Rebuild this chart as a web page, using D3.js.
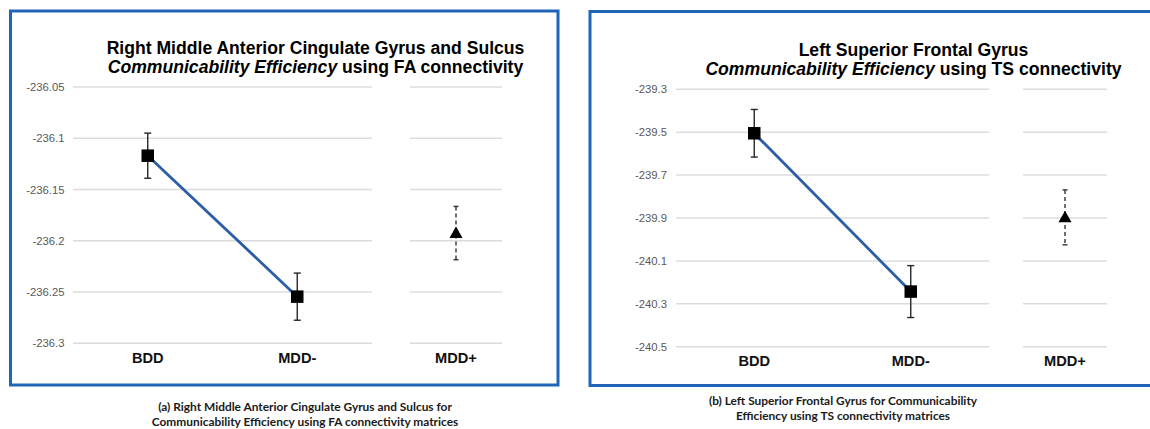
<!DOCTYPE html>
<html>
<head>
<meta charset="utf-8">
<script src="https://cdn.jsdelivr.net/npm/d3@7"></script>
<style>
  body { margin: 0; background: #fff; }
  svg { display: block; }
</style>
</head>
<body>
<svg id="chart" width="1150" height="429"></svg>
<script>
// Groups: the first two are joined by a line, the third stands alone
const pairCategories = ["BDD", "MDD-"];
const extraCategory = ["MDD+"];

// Panel (a): FA connectivity
const faTitleTop = "Right Middle Anterior Cingulate Gyrus and Sulcus";
const faTitleRest = " using FA connectivity";
const faMeans = [-236.117, -236.2545];
const faErrors = [0.022, 0.023];
const faExtraMeans = [-236.1925];
const faExtraErrors = [0.026];
const faTicks = [-236.05, -236.1, -236.15, -236.2, -236.25, -236.3];
const faCaption = ["(a) Right Middle Anterior Cingulate Gyrus and Sulcus for",
                   "Communicability Efficiency using FA connectivity matrices"];

// Panel (b): TS connectivity
const tsTitleTop = "Left Superior Frontal Gyrus";
const tsTitleRest = " using TS connectivity";
const tsMeans = [-239.505, -240.243];
const tsErrors = [0.111, 0.121];
const tsExtraMeans = [-239.897];
const tsExtraErrors = [0.128];
const tsTicks = [-239.3, -239.5, -239.7, -239.9, -240.1, -240.3, -240.5];
const tsCaption = ["(b) Left Superior Frontal Gyrus for Communicability",
                   "Efficiency using TS connectivity matrices"];

const titleItalic = "Communicability Efficiency";

const svg = d3.select("#chart");
const FONT = "'Liberation Sans', Arial, sans-serif";
const CAPTION_FONT = "Lato, 'Open Sans', sans-serif";

function drawPanel(p) {
  const g = svg.append("g");

  // frame
  g.append("rect")
    .attr("x", p.box.x).attr("y", p.box.y)
    .attr("width", p.box.w).attr("height", p.box.h)
    .attr("fill", "#fff")
    .attr("stroke", "#2166b6")
    .attr("stroke-width", 3);

  const y = d3.scaleLinear().domain(d3.extent(p.ticks)).range([p.yBottom, p.yTop]);
  const xPair = d3.scaleBand().domain(pairCategories).range(p.pairRange);
  const xExtra = d3.scaleBand().domain(extraCategory).range(p.extraRange);
  const cx = (scale, c) => scale(c) + scale.bandwidth() / 2;

  // gridlines, split into the two category groups
  [p.pairRange, p.extraRange].forEach(r => {
    g.append("g").selectAll("line").data(p.ticks).join("line")
      .attr("x1", r[0]).attr("x2", r[1])
      .attr("y1", d => y(d)).attr("y2", d => y(d))
      .attr("stroke", "#dcdcdc").attr("stroke-width", 1.5);
  });

  // y tick labels
  const axis = d3.axisLeft(y).tickValues(p.ticks).tickSize(0).tickPadding(0)
    .tickFormat(d => String(d));
  const ag = g.append("g").attr("transform", `translate(${p.labelX},0)`).call(axis);
  ag.select(".domain").remove();
  ag.selectAll("text")
    .attr("font-family", FONT).attr("font-size", 11.3).attr("fill", "#595959");

  // category labels
  const cats = pairCategories.map(c => ({ c, x: cx(xPair, c) }))
    .concat(extraCategory.map(c => ({ c, x: cx(xExtra, c) })));
  g.append("g").selectAll("text").data(cats).join("text")
    .attr("x", d => d.x).attr("y", p.catY)
    .attr("text-anchor", "middle")
    .attr("font-family", FONT).attr("font-weight", "bold")
    .attr("font-size", 14.6).attr("fill", "#111")
    .text(d => d.c);

  // title
  const t = g.append("text")
    .attr("text-anchor", "middle")
    .attr("font-family", FONT).attr("font-weight", "bold")
    .attr("font-size", 17.6).attr("fill", "#000");
  t.append("tspan").attr("x", p.titleX).attr("y", p.titleY).text(p.titleTop);
  t.append("tspan").attr("x", p.titleX).attr("y", p.titleY + 19.2)
    .attr("font-style", "italic").text(titleItalic);
  t.append("tspan").text(p.titleRest);

  // connecting line between the paired groups
  const pts = pairCategories.map((c, i) => [cx(xPair, c), y(p.means[i])]);
  g.append("path")
    .attr("d", d3.line()(pts))
    .attr("fill", "none").attr("stroke", "#2c5ea6").attr("stroke-width", 2.8);

  // solid error bars
  const capW = 3.5;
  pairCategories.forEach((c, i) => {
    const x = cx(xPair, c);
    const y1 = y(p.means[i] + p.errors[i]);
    const y2 = y(p.means[i] - p.errors[i]);
    const eg = g.append("g").attr("stroke", "#262626").attr("stroke-width", 1.4);
    eg.append("line").attr("x1", x).attr("x2", x).attr("y1", y1).attr("y2", y2);
    eg.append("line").attr("x1", x - capW).attr("x2", x + capW).attr("y1", y1).attr("y2", y1);
    eg.append("line").attr("x1", x - capW).attr("x2", x + capW).attr("y1", y2).attr("y2", y2);
  });

  // square markers
  const sq = 12.5;
  g.append("g").selectAll("rect").data(pairCategories).join("rect")
    .attr("x", c => cx(xPair, c) - sq / 2)
    .attr("y", (c, i) => y(p.means[i]) - sq / 2)
    .attr("width", sq).attr("height", sq)
    .attr("fill", "#000");

  // dashed error bar and triangle for the separate group
  extraCategory.forEach((c, i) => {
    const x = cx(xExtra, c);
    const y1 = y(p.extraMeans[i] + p.extraErrors[i]);
    const y2 = y(p.extraMeans[i] - p.extraErrors[i]);
    const eg = g.append("g").attr("stroke", "#333").attr("stroke-width", 1.4);
    eg.append("line").attr("x1", x).attr("x2", x).attr("y1", y1).attr("y2", y2)
      .attr("stroke-dasharray", "4,3");
    eg.append("line").attr("x1", x - 2.5).attr("x2", x + 2.5).attr("y1", y1).attr("y2", y1);
    eg.append("line").attr("x1", x - 2.5).attr("x2", x + 2.5).attr("y1", y2).attr("y2", y2);
    const ym = y(p.extraMeans[i]);
    g.append("path")
      .attr("d", `M${x},${ym - 6.5}L${x + 6.5},${ym + 5}L${x - 6.5},${ym + 5}Z`)
      .attr("fill", "#000");
  });

  // caption below the frame
  g.append("g").selectAll("text").data(p.caption).join("text")
    .attr("x", p.captionX).attr("y", (d, i) => p.captionY + i * 15.5)
    .attr("text-anchor", "middle")
    .attr("font-family", CAPTION_FONT).attr("font-weight", "bold")
    .attr("font-size", 11.9).attr("fill", "#1a1a1a")
    .text(d => d);
}

drawPanel({
  box: { x: 10.5, y: 11, w: 547.5, h: 374 },
  ticks: faTicks, yTop: 87, yBottom: 343.3,
  pairRange: [73, 372], extraRange: [410, 502],
  labelX: 64.5, catY: 362.5,
  titleX: 315.5, titleY: 53.5, titleTop: faTitleTop, titleRest: faTitleRest,
  means: faMeans, errors: faErrors,
  extraMeans: faExtraMeans, extraErrors: faExtraErrors,
  caption: faCaption, captionX: 305, captionY: 410.5
});

drawPanel({
  box: { x: 590, y: 11.5, w: 575, h: 374 },
  ticks: tsTicks, yTop: 89.3, yBottom: 346.7,
  pairRange: [676, 989], extraRange: [1023, 1107],
  labelX: 667, catY: 366,
  titleX: 913.5, titleY: 55.5, titleTop: tsTitleTop, titleRest: tsTitleRest,
  means: tsMeans, errors: tsErrors,
  extraMeans: tsExtraMeans, extraErrors: tsExtraErrors,
  caption: tsCaption, captionX: 843, captionY: 404.5
});
</script>
</body>
</html>
